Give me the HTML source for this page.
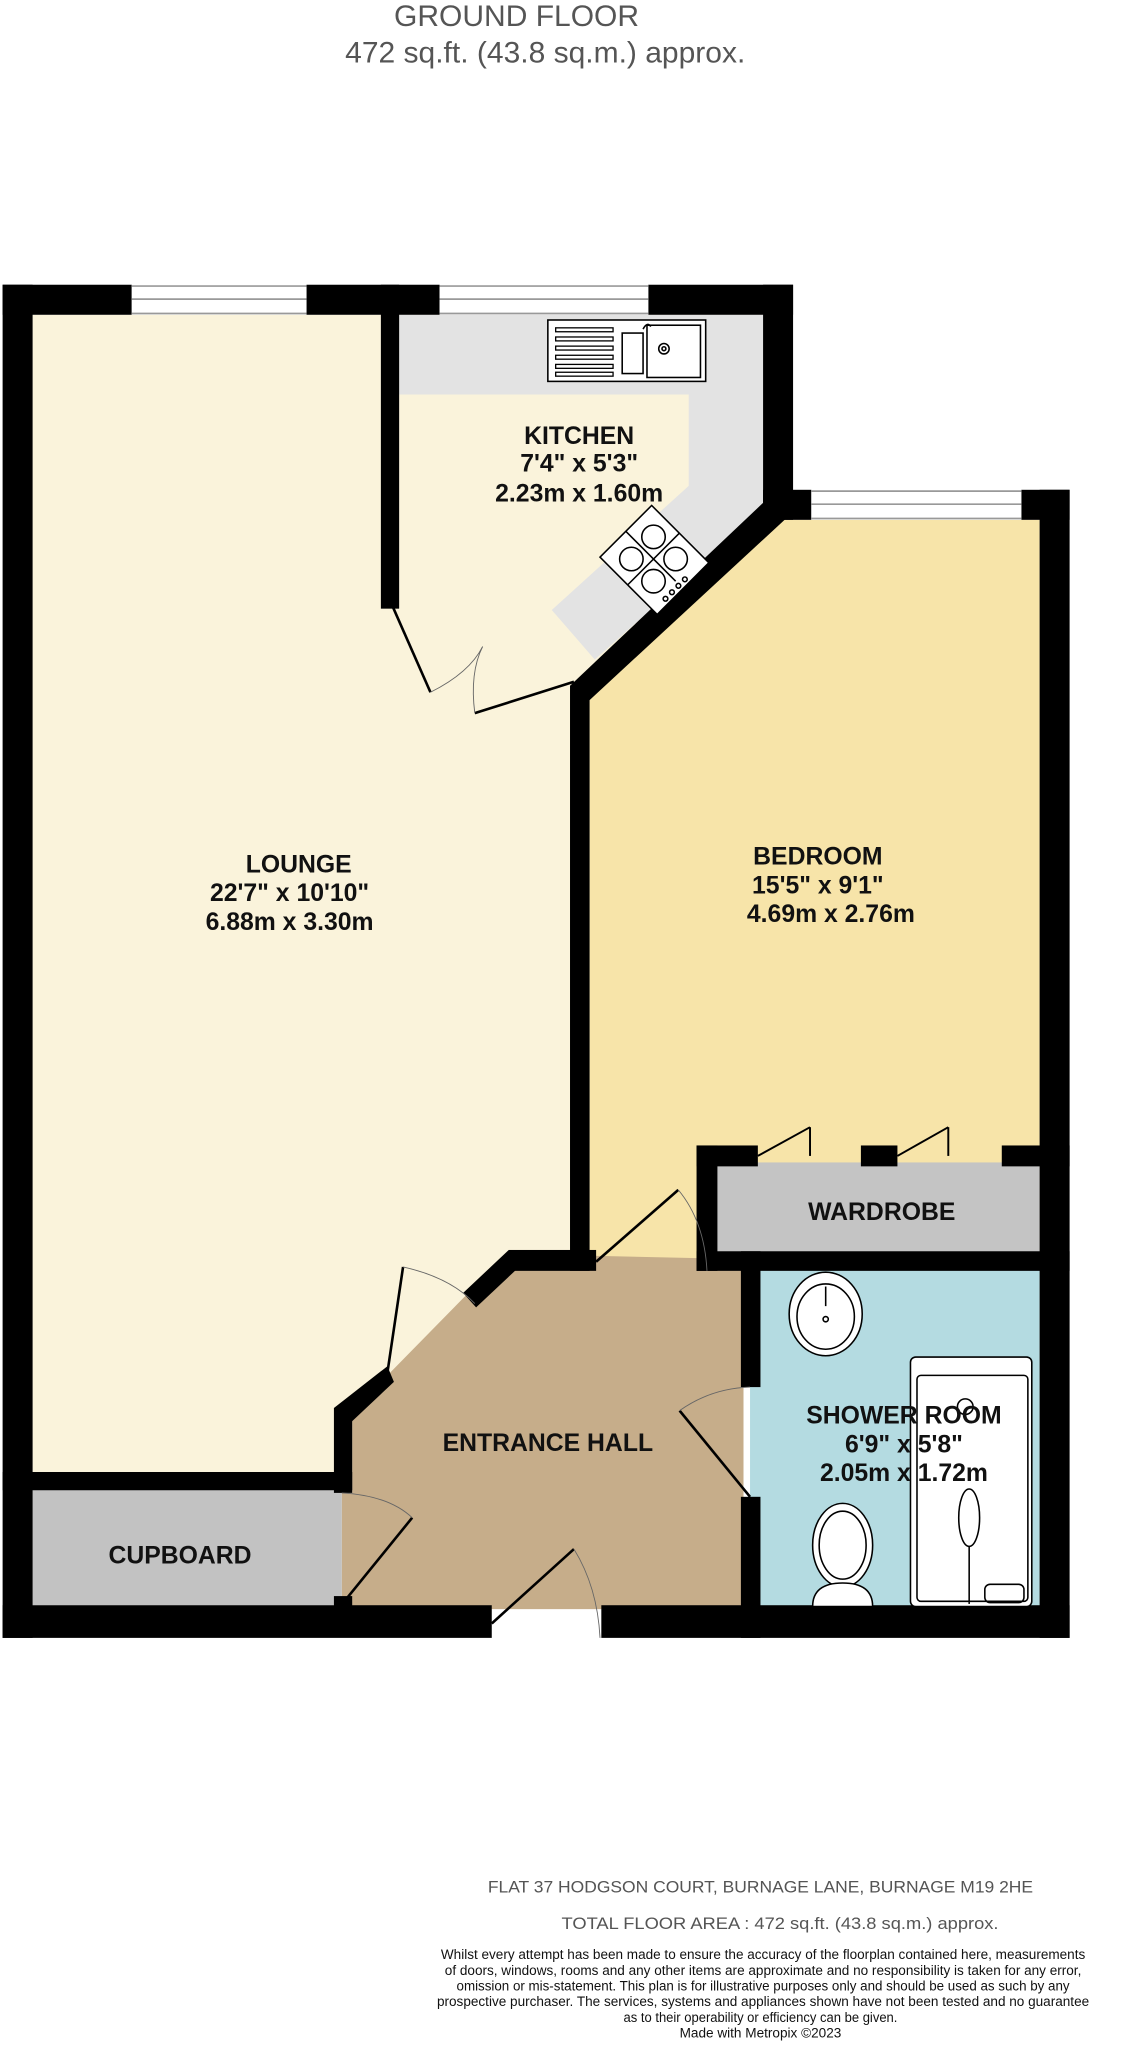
<!DOCTYPE html>
<html><head><meta charset="utf-8"><style>
html,body{margin:0;padding:0;background:#fff;}
svg{display:block;}
text{font-family:"Liberation Sans",sans-serif;}
</style></head><body>
<svg width="1127" height="2048" viewBox="0 0 864 1568" preserveAspectRatio="none" xmlns="http://www.w3.org/2000/svg">
<rect width="864" height="1568" fill="#fff"/>
<text x="396" y="20" font-size="23" fill="#555" text-anchor="middle">GROUND FLOOR</text>
<text x="418" y="48" font-size="23" fill="#555" text-anchor="middle">472 sq.ft. (43.8 sq.m.) approx.</text>

<rect x="25" y="241" width="268" height="890" fill="#faf3db"/>
<rect x="290" y="460" width="150" height="670" fill="#faf3db"/>
<polygon points="306,241 585,241 585,390 440,525 306,525" fill="#faf3db"/>
<polygon points="306,241 585,241 585,390 456,505 423,467 528,372 528,302 306,302" fill="#e3e3e3"/>
<polygon points="598,398 797,398 797,965 452,965 452,533" fill="#f7e4a9"/>
<rect x="547" y="890" width="250" height="70" fill="#c4c4c4"/>
<rect x="575" y="970" width="222" height="262" fill="#b4dbe1"/>
<polygon points="270,1084 299,1051 357,992 390,960 570,964 570,1232 262,1232 262,1143 270,1143" fill="#c6ad8a"/>
<rect x="25" y="1141" width="237" height="88" fill="#c2c2c2"/>

<g fill="#000">
<rect x="2" y="218" width="99" height="23"/>
<rect x="235" y="218" width="102" height="23"/>
<rect x="497" y="218" width="111" height="23"/>
<rect x="2" y="218" width="23" height="1036"/>
<rect x="292" y="218" width="14" height="248"/>
<rect x="585" y="218" width="23" height="180"/>
<rect x="585" y="375" width="37" height="23"/>
<rect x="783" y="375" width="37" height="23"/>
<rect x="797" y="375" width="23" height="879"/>
<polygon points="585,385 608,392 452,536 437,525"/>
<rect x="437" y="525" width="15" height="448"/>
<rect x="390" y="957" width="67" height="16"/>
<polygon points="390,957 398,970 365,1001 355,990"/>
<polygon points="297,1046 302,1058 268,1090 256,1078"/>
<rect x="256" y="1078" width="14" height="65"/>
<rect x="2" y="1127" width="268" height="14"/>
<rect x="534" y="877" width="47" height="16"/>
<rect x="660" y="877" width="28" height="16"/>
<rect x="768" y="877" width="52" height="16"/>
<rect x="534" y="877" width="16" height="96"/>
<rect x="534" y="958" width="286" height="15"/>
<rect x="568" y="958" width="15" height="104"/>
<rect x="568" y="1146" width="15" height="108"/>
<rect x="2" y="1229" width="375" height="25"/>
<rect x="461" y="1229" width="359" height="25"/>
<rect x="256" y="1222" width="14" height="9"/>
</g>

<g stroke="#999" stroke-width="1.3">
<rect x="101" y="218" width="134" height="23" fill="#fff" stroke="none"/>
<line x1="101" y1="219" x2="235" y2="219"/><line x1="101" y1="229" x2="235" y2="229"/><line x1="101" y1="240" x2="235" y2="240"/>
<rect x="337" y="218" width="160" height="23" fill="#fff" stroke="none"/>
<line x1="337" y1="219" x2="497" y2="219"/><line x1="337" y1="229" x2="497" y2="229"/><line x1="337" y1="240" x2="497" y2="240"/>
<rect x="622" y="375" width="161" height="23" fill="#fff" stroke="none"/>
<line x1="622" y1="376" x2="783" y2="376"/><line x1="622" y1="386" x2="783" y2="386"/><line x1="622" y1="397" x2="783" y2="397"/>
</g>

<g fill="none" stroke="#000">
<line x1="300" y1="462" x2="330" y2="530" stroke-width="2"/>
<path d="M330,530 Q360,515 370,495" stroke="#666" stroke-width="0.7"/>
<line x1="364" y1="546" x2="440" y2="522" stroke-width="2"/>
<path d="M364,546 Q360,515 370,495" stroke="#666" stroke-width="0.7"/>
<line x1="297" y1="1051" x2="309" y2="970" stroke-width="2"/>
<path d="M309,970 Q345,978 364,998" stroke="#666" stroke-width="0.7"/>
<line x1="457" y1="966" x2="520" y2="911" stroke-width="2"/>
<path d="M520,911 Q540,935 542,973" stroke="#666" stroke-width="0.7"/>
<line x1="521" y1="1080" x2="575" y2="1146" stroke-width="2"/>
<path d="M521,1080 Q545,1063 575,1062" stroke="#666" stroke-width="0.7"/>
<line x1="377" y1="1243" x2="440" y2="1186" stroke-width="2"/>
<path d="M440,1186 Q458,1215 460,1254" stroke="#666" stroke-width="0.7"/>
<line x1="264" y1="1226" x2="316" y2="1162" stroke-width="2"/>
<path d="M262,1143 Q298,1145 316,1162" stroke="#666" stroke-width="0.7"/>
<line x1="581" y1="885" x2="621" y2="863" stroke-width="1.5"/><line x1="621" y1="863" x2="621" y2="885" stroke-width="1.5"/>
<line x1="688" y1="885" x2="727" y2="863" stroke-width="1.5"/><line x1="727" y1="863" x2="727" y2="885" stroke-width="1.5"/>
</g>

<g fill="#fff" stroke="#000" stroke-width="1.2">
<rect x="420" y="245" width="121" height="47"/>
<rect x="496" y="249" width="41" height="40" fill="none"/>
<rect x="477" y="255" width="16" height="31" fill="none"/>
<circle cx="509" cy="267" r="4" fill="none"/><circle cx="509" cy="267" r="1.5" fill="none"/>
<g stroke-width="1"><rect x="426" y="251" width="44" height="3"/><rect x="426" y="258" width="44" height="3"/><rect x="426" y="265" width="44" height="3"/><rect x="426" y="272" width="44" height="3"/><rect x="426" y="279" width="44" height="3"/><rect x="426" y="285" width="44" height="3"/></g>
<path d="M493,252 q3,-6 6,-2" fill="none"/>
</g>
<g transform="translate(501,428) rotate(-45)" fill="#fff" stroke="#000" stroke-width="1.2">
<rect x="-28" y="-30" width="56" height="62"/>
<circle cx="-12" cy="-12" r="9" fill="none"/><circle cx="12" cy="-12" r="9" fill="none"/>
<circle cx="-12" cy="12" r="9" fill="none"/><circle cx="12" cy="12" r="9" fill="none"/>
<line x1="0" y1="-30" x2="0" y2="24"/><line x1="-28" y1="0" x2="28" y2="0"/>
<circle cx="-15" cy="28" r="1.8" fill="none"/><circle cx="-8" cy="28" r="1.8" fill="none"/><circle cx="-1" cy="28" r="1.8" fill="none"/><circle cx="6" cy="28" r="1.8" fill="none"/>
</g>
<g fill="#fff" stroke="#000" stroke-width="1.2">
<ellipse cx="633" cy="1006" rx="28" ry="32"/>
<ellipse cx="633" cy="1008" rx="22" ry="25" fill="none"/>
<line x1="633" y1="985" x2="633" y2="1000"/><circle cx="633" cy="1010" r="2" fill="none"/>
<rect x="698" y="1039" width="93" height="191" rx="4"/>
<rect x="703" y="1053" width="85" height="173" rx="3" fill="none"/>
<ellipse cx="743" cy="1162" rx="8" ry="22" fill="none"/>
<line x1="743" y1="1184" x2="743" y2="1228"/>
<circle cx="740" cy="1077" r="6" fill="none"/>
<rect x="755" y="1213" width="30" height="14" rx="4" fill="none"/>
<ellipse cx="646" cy="1183" rx="23" ry="32"/>
<ellipse cx="646" cy="1183" rx="18" ry="26" fill="none"/>
<path d="M623,1230 q0,-18 23,-18 q23,0 23,18 z"/>
</g>

<g font-weight="bold" font-size="19" fill="#111" text-anchor="middle">
<text x="444" y="340">KITCHEN</text>
<text x="444" y="361">7'4"  x 5'3"</text>
<text x="444" y="384">2.23m  x 1.60m</text>
<text x="229" y="668">LOUNGE</text>
<text x="222" y="690">22'7"  x 10'10"</text>
<text x="222" y="712">6.88m  x 3.30m</text>
<text x="627" y="662">BEDROOM</text>
<text x="627" y="684">15'5"  x 9'1"</text>
<text x="637" y="706">4.69m  x 2.76m</text>
<text x="676" y="934">WARDROBE</text>
<text x="420" y="1111">ENTRANCE HALL</text>
<text x="138" y="1197">CUPBOARD</text>
<text x="693" y="1090">SHOWER ROOM</text>
<text x="693" y="1112">6'9"  x 5'8"</text>
<text x="693" y="1134">2.05m  x 1.72m</text>
</g>

<g fill="#555" text-anchor="middle">
<text x="583" y="1449" font-size="13" textLength="418" lengthAdjust="spacingAndGlyphs">FLAT 37  HODGSON COURT,  BURNAGE LANE, BURNAGE M19 2HE</text>
<text x="598" y="1477" font-size="13" textLength="335" lengthAdjust="spacingAndGlyphs">TOTAL FLOOR AREA : 472 sq.ft. (43.8 sq.m.) approx.</text>
</g>
<g fill="#111" text-anchor="middle" font-size="10.5">
<text x="585" y="1500" textLength="494" lengthAdjust="spacingAndGlyphs">Whilst every attempt has been made to ensure the accuracy of the floorplan contained here, measurements</text>
<text x="585" y="1512" textLength="488" lengthAdjust="spacingAndGlyphs">of doors, windows, rooms and any other items are approximate and no responsibility is taken for any error,</text>
<text x="585" y="1524" textLength="470" lengthAdjust="spacingAndGlyphs">omission or mis-statement. This plan is for illustrative purposes only and should be used as such by any</text>
<text x="585" y="1536" textLength="500" lengthAdjust="spacingAndGlyphs">prospective purchaser. The services, systems and appliances shown have not been tested and no guarantee</text>
<text x="583" y="1548" textLength="210" lengthAdjust="spacingAndGlyphs">as to their operability or efficiency can be given.</text>
<text x="583" y="1560" textLength="124" lengthAdjust="spacingAndGlyphs">Made with Metropix ©2023</text>
</g>
</svg>
</body></html>
